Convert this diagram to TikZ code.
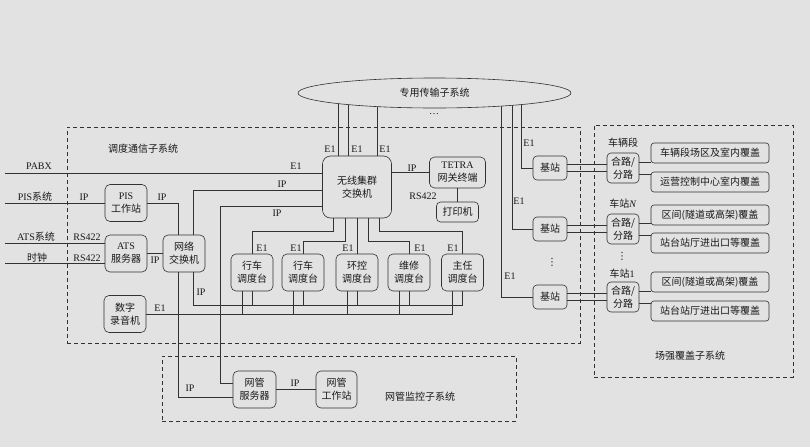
\documentclass[tikz,border=0pt]{standalone}
\usepackage{fontspec}
\setmainfont{Liberation Serif}
\newfontfamily\cjk{Noto Sans CJK SC}
\newfontfamily\djv{DejaVu Sans}
\usetikzlibrary{shapes.geometric}
\definecolor{bgcol}{RGB}{226,226,226}
\definecolor{ln}{RGB}{50,50,50}
\definecolor{tx}{RGB}{25,25,25}
\newcommand{\zhs}[1]{{\cjk #1}}
\pgfdeclarelayer{bgl}
\pgfdeclarelayer{lines}
\pgfsetlayers{bgl,lines,main}
\begin{document}
\begin{tikzpicture}[x=1pt,y=-1pt, font=\fontsize{10}{13}\selectfont, text=tx,
  box/.style={draw=ln, rounded corners=5pt, align=center, inner sep=0pt, line width=0.6pt},
  cbox/.style={box, rounded corners=3pt, minimum width=118pt, minimum height=20pt},
  console/.style={box, minimum width=42pt, minimum height=37pt},
  bsbox/.style={box, rounded corners=4pt, minimum width=34pt, minimum height=24pt},
  combox/.style={box, rounded corners=4pt, minimum width=32pt, minimum height=30pt},
  wire/.style={draw=ln, line width=0.6pt},
  dbox/.style={draw=ln, dash pattern=on 4pt off 3pt, line width=0.6pt, inner sep=0pt},
  lab/.style={inner sep=0pt}]
\begin{pgfonlayer}{bgl}
  \fill[bgcol] (0,0) rectangle (810,447);
\end{pgfonlayer}
\useasboundingbox (0,0) rectangle (810,447);

% dashed subsystem frames
\node[dbox, minimum width=513pt, minimum height=216pt] (dispsys) at (323.5,235) {};
\node[dbox, minimum width=199pt, minimum height=252pt] (covsys) at (693.5,251) {};
\node[dbox, minimum width=354pt, minimum height=65pt] (nmsys) at (339,388.5) {};

% ellipse
\node[draw=ln, ellipse, fill=bgcol, minimum width=273pt, minimum height=30pt, inner sep=0pt, line width=0.6pt] (ell) at (434.5,93) {\zhs{专用传输子系统}};

% main nodes
\node[box, rounded corners=8pt, minimum width=69pt, minimum height=62pt] (sw) at (357,187) {\zhs{无线集群}\\\zhs{交换机}};
\node[box, minimum width=56pt, minimum height=31pt] (tetra) at (457.5,172.5) {TETRA\\\zhs{网关终端}};
\node[box, rounded corners=4pt, minimum width=42pt, minimum height=20pt] (printer) at (457.5,212) {\zhs{打印机}};
\node[console] (pis) at (126,203) {PIS\\\zhs{工作站}};
\node[console] (ats) at (126,253.5) {ATS\\\zhs{服务器}};
\node[console] (nsw) at (184,253.5) {\zhs{网络}\\\zhs{交换机}};
\node[console] (rec) at (125,314) {\zhs{数字}\\\zhs{录音机}};
\node[console] (c1) at (252,272.5) {\zhs{行车}\\\zhs{调度台}};
\node[console] (c2) at (303,272.5) {\zhs{行车}\\\zhs{调度台}};
\node[console] (c3) at (357,272.5) {\zhs{环控}\\\zhs{调度台}};
\node[console] (c4) at (409,272.5) {\zhs{维修}\\\zhs{调度台}};
\node[console] (c5) at (462.5,272.5) {\zhs{主任}\\\zhs{调度台}};
\node[console, minimum width=43pt] (nms) at (254.5,389.5) {\zhs{网管}\\\zhs{服务器}};
\node[console, minimum width=41pt] (nws) at (336.5,389.5) {\zhs{网管}\\\zhs{工作站}};

% base stations and combiners
\node[bsbox] (bs1) at (550,168) {\zhs{基站}};
\node[bsbox] (bs2) at (550,229) {\zhs{基站}};
\node[bsbox] (bs3) at (550,297) {\zhs{基站}};
\node[combox] (cb1) at (623,168) {\zhs{合路/}\\\zhs{分路}};
\node[combox] (cb2) at (623,229) {\zhs{合路/}\\\zhs{分路}};
\node[combox] (cb3) at (623,297) {\zhs{合路/}\\\zhs{分路}};
\node[cbox] (r1) at (710,153) {\zhs{车辆段场区及室内覆盖}};
\node[cbox] (r2) at (710,182) {\zhs{运营控制中心室内覆盖}};
\node[cbox] (r3) at (710,215) {\zhs{区间(隧道或高架)覆盖}};
\node[cbox] (r4) at (710,243) {\zhs{站台站厅进出口等覆盖}};
\node[cbox] (r5) at (710,282) {\zhs{区间(隧道或高架)覆盖}};
\node[cbox] (r6) at (710,311) {\zhs{站台站厅进出口等覆盖}};

% connectors into the ellipse (hidden under its fill)
\begin{pgfonlayer}{lines}
  \draw[wire] ([xshift=-19pt]sw.north) -- ([xshift=-19pt]sw.north |- ell.center);
  \draw[wire] ([xshift=-9pt]sw.north) -- ([xshift=-9pt]sw.north |- ell.center);
  \draw[wire] ([xshift=20pt]sw.north) -- ([xshift=20pt]sw.north |- ell.center);
  \draw[wire] (bs1.west) -| ([xshift=86.5pt]ell.center);
  \draw[wire] (bs2.west) -| ([xshift=77.5pt]ell.center);
  \draw[wire] (bs3.west) -| ([xshift=66.5pt]ell.center);
\end{pgfonlayer}

% external inputs
\coordinate (pabx) at (5,173);
\coordinate (pisl) at (5,203);
\coordinate (atsl) at (5,243);
\coordinate (clkl) at (5,263);
\draw[wire] (pabx) -- (pabx -| sw.west);
\draw[wire] (pisl) -- (pis.west);
\draw[wire] (atsl) -- (atsl -| ats.west);
\draw[wire] (clkl) -- (clkl -| ats.west);

% dispatch network
\draw[wire] (pis.east) -| ([xshift=-6pt]nsw.north);
\draw[wire] ([xshift=9pt]nsw.north) |- ([yshift=-3pt]sw.west);
\draw[wire] ([yshift=-19pt]sw.west) -- ++(-102,0) |- ([yshift=6.5pt]nms.west);
\draw[wire] (ats.east) -- (nsw.west);
\draw[wire] ([xshift=-6pt]nsw.south) |- ([yshift=-7.5pt]nms.west);
\coordinate (ipbus) at (462.5,305);
\draw[wire] ([xshift=9pt]nsw.south) |- (ipbus) -- (c5.south);
\foreach \c in {c1,c2,c3,c4} \draw[wire] (\c.south) -- (\c.south |- ipbus);
\draw[wire] (rec.east) -| ([xshift=-10pt]c5.south);
\foreach \c in {c1,c2,c3,c4} \draw[wire] ([xshift=-10pt]\c.south) -- ([xshift=-10pt]\c.south |- rec.east);
\draw[wire] (c1.north) -- ++(0,-22) -| ([xshift=-23.5pt]sw.south);
\draw[wire] (c2.north) -- ++(0,-12) -| ([xshift=-12pt]sw.south);
\draw[wire] (c3.north) -- (c3.north |- sw.south);
\draw[wire] (c4.north) -- ++(0,-12) -| ([xshift=11.5pt]sw.south);
\draw[wire] (c5.north) -- ++(0,-22) -| ([xshift=22.5pt]sw.south);
\draw[wire] (tetra.west -| sw.east) -- (tetra.west);
\draw[wire] (tetra.south) -- (printer.north);
\draw[wire] (nms.east) -- (nws.west);

% base stations to combiners to coverage
\foreach \i/\a/\b in {1/r1/r2,2/r3/r4,3/r5/r6} {
  \draw[wire] ([yshift=3.5pt]bs\i.east) -- ([yshift=3.5pt]bs\i.east -| cb\i.west);
  \draw[wire] ([yshift=-3.5pt]bs\i.east) -- ([yshift=-3.5pt]bs\i.east -| cb\i.west);
  \draw[wire] ([yshift=6pt]cb\i.east) -- ([yshift=6pt]cb\i.east -| \a.west);
  \draw[wire] ([yshift=-6pt]cb\i.east) -- ([yshift=-6pt]cb\i.east -| \b.west);
}

% labels
\node[lab] (t1) at (143,149) {\zhs{调度通信子系统}};
\node[lab] (t2) at (690,356) {\zhs{场强覆盖子系统}};
\node[lab] (t3) at (420,397) {\zhs{网管监控子系统}};
\node[lab] (t4) at (434,114) {\ldots};
\node[lab] (l1) at (39,166) {PABX};
\node[lab] (l2) at (35,197) {PIS\zhs{系统}};
\node[lab] (l3) at (84,197) {IP};
\node[lab] (l4) at (36,237) {ATS\zhs{系统}};
\node[lab] (l5) at (87,237) {RS422};
\node[lab] (l6) at (37,258) {\zhs{时钟}};
\node[lab] (l7) at (87,258) {RS422};
\node[lab] (l8) at (162,197) {IP};
\node[lab] (l9) at (296,166) {E1};
\node[lab] (l10) at (282,184) {IP};
\node[lab] (l11) at (277,213) {IP};
\node[lab] (l12) at (155,260) {IP};
\node[lab] (l13) at (201,292) {IP};
\node[lab] (l14) at (160,308) {E1};
\node[lab] (l15) at (190,388) {IP};
\node[lab] (l16) at (295,383) {IP};
\node[lab] (e1) at (262,248) {E1};
\node[lab] (e2) at (296,248) {E1};
\node[lab] (e3) at (348,248) {E1};
\node[lab] (e4) at (420,248) {E1};
\node[lab] (e5) at (453,248) {E1};
\node[lab] (e6) at (330,149) {E1};
\node[lab] (e7) at (357,149) {E1};
\node[lab] (e8) at (385,149) {E1};
\node[lab] (l17) at (412,168) {IP};
\node[lab] (l18) at (423,196) {RS422};
\node[lab] (e9) at (529,143) {E1};
\node[lab] (e10) at (519,201) {E1};
\node[lab] (e11) at (510,276) {E1};
\node[lab] (d1) at (552,262) {\djv ⋮};
\node[lab] (s1) at (623,143) {\zhs{车辆段}};
\node[lab] (s2) at (623,204) {\zhs{车站}\textit{N}};
\node[lab] (d2) at (622,256) {\djv ⋮};
\node[lab] (s3) at (622,274) {\zhs{车站}1};
\end{tikzpicture}
\end{document}
